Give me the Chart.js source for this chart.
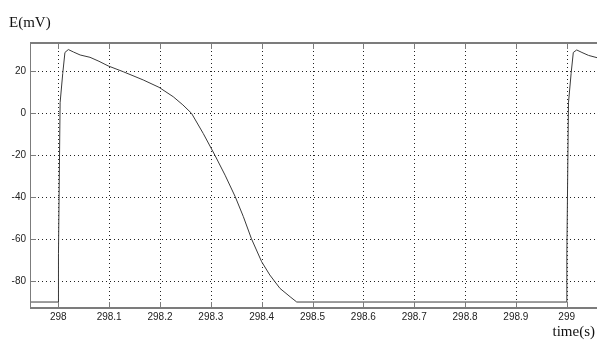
<!DOCTYPE html>
<html>
<head>
<meta charset="utf-8">
<script src="https://cdn.jsdelivr.net/npm/chart.js@4/dist/chart.umd.min.js"></script>
<style>
  html, body { margin: 0; padding: 0; background: #ffffff; }
  canvas { display: block; }
</style>
</head>
<body>
<canvas id="c" width="597" height="341"></canvas>
<script>
// ---- data ----
const timeS = [
  297.944, 298.0, 298.0003, 298.0035, 298.0087, 298.013, 298.0197, 298.03, 298.043,
  298.0623, 298.08, 298.098, 298.128, 298.167, 298.198, 298.226, 298.245, 298.262,
  298.285, 298.308, 298.328, 298.348, 298.364, 298.38, 298.4, 298.416, 298.436,
  298.456, 298.469, 299.0, 299.0003, 299.0035, 299.0087, 299.013, 299.0197, 299.03,
  299.043, 299.06
];
const voltageMV = [
  -90, -90, -67, 5, 19, 29, 30.4, 29.2, 27.8,
  26.7, 24.8, 22.6, 19.8, 15.9, 12.4, 7.9, 4.0, 0,
  -9.6, -20, -29.5, -39.8, -49.3, -59.9, -70.8, -77.1, -83.5,
  -87.5, -90, -90, -67, 5, 19, 29, 30.2, 29.0,
  27.6, 26.5
];
const xTickValues = [298, 298.1, 298.2, 298.3, 298.4, 298.5, 298.6, 298.7, 298.8, 298.9, 299];
const yTickValues = [-80, -60, -40, -20, 0, 20];
const xTitle = 'time(s)';
const yTitle = 'E(mV)';

const points = timeS.map((t, i) => ({ x: t, y: voltageMV[i] }));

const labelFont = { family: '"Liberation Sans Narrow", "Liberation Sans", Arial, sans-serif', size: 10 };
const frameColor = '#7c7c7c';

const matlabFrame = {
  id: 'matlabFrame',
  beforeDatasetsDraw(chart) {
    const { ctx, chartArea: a, scales: { x, y } } = chart;
    ctx.save();
    ctx.strokeStyle = '#222';
    ctx.lineWidth = 1;
    ctx.setLineDash([1, 3]);
    xTickValues.forEach(v => {
      const px = Math.round(x.getPixelForValue(v)) + 0.5;
      ctx.beginPath(); ctx.moveTo(px, a.top); ctx.lineTo(px, a.bottom); ctx.stroke();
    });
    yTickValues.forEach(v => {
      const py = Math.round(y.getPixelForValue(v)) + 0.5;
      ctx.beginPath(); ctx.moveTo(a.left, py); ctx.lineTo(a.right, py); ctx.stroke();
    });
    ctx.restore();
  },
  afterDatasetsDraw(chart) {
    const { ctx, chartArea: a, scales: { x, y } } = chart;
    ctx.save();
    ctx.setLineDash([]);
    ctx.strokeStyle = frameColor;
    ctx.lineWidth = 2;
    ctx.beginPath(); ctx.moveTo(a.left, a.top); ctx.lineTo(a.right, a.top); ctx.stroke();
    ctx.beginPath(); ctx.moveTo(a.left, a.bottom); ctx.lineTo(a.right, a.bottom); ctx.stroke();
    ctx.lineWidth = 1;
    ctx.beginPath(); ctx.moveTo(a.left + 0.5, a.top); ctx.lineTo(a.left + 0.5, a.bottom); ctx.stroke();
    const tl = 6;
    xTickValues.forEach(v => {
      const px = Math.round(x.getPixelForValue(v)) + 0.5;
      ctx.beginPath(); ctx.moveTo(px, a.bottom); ctx.lineTo(px, a.bottom - tl); ctx.stroke();
      ctx.beginPath(); ctx.moveTo(px, a.top); ctx.lineTo(px, a.top + tl); ctx.stroke();
    });
    yTickValues.forEach(v => {
      const py = Math.round(y.getPixelForValue(v)) + 0.5;
      ctx.beginPath(); ctx.moveTo(a.left, py); ctx.lineTo(a.left + tl, py); ctx.stroke();
    });
    ctx.restore();
  },
  afterDraw(chart) {
    const { ctx } = chart;
    ctx.save();
    ctx.fillStyle = '#111';
    ctx.font = '15px "Liberation Serif", "Times New Roman", serif';
    ctx.textBaseline = 'alphabetic';
    ctx.textAlign = 'left';
    ctx.fillText(yTitle, 9, 27);
    ctx.textAlign = 'right';
    ctx.fillText(xTitle, 595, 336);
    ctx.restore();
  }
};

new Chart(document.getElementById('c'), {
  type: 'line',
  data: {
    datasets: [{
      data: points,
      borderColor: '#3a3a3a',
      borderWidth: 1,
      pointRadius: 0,
      tension: 0,
      fill: false
    }]
  },
  options: {
    responsive: false,
    animation: false,
    events: [],
    layout: { padding: { top: 43, left: 0, right: 0, bottom: 0 } },
    plugins: { legend: { display: false }, tooltip: { enabled: false }, title: { display: false } },
    scales: {
      x: {
        type: 'linear',
        min: 297.9443,
        max: 299.0596,
        grid: { display: false, drawTicks: false },
        border: { display: false },
        afterBuildTicks: s => { s.ticks = xTickValues.map(v => ({ value: v })); },
        afterFit: s => { s.height = 33; },
        ticks: {
          color: '#222',
          font: labelFont,
          padding: 3,
          maxRotation: 0,
          autoSkip: false,
          callback: v => String(Number(Number(v).toFixed(1)))
        }
      },
      y: {
        type: 'linear',
        min: -92.85,
        max: 33.52,
        grid: { display: false, drawTicks: false },
        border: { display: false },
        afterBuildTicks: s => { s.ticks = yTickValues.map(v => ({ value: v })); },
        afterFit: s => { s.width = 30; },
        ticks: {
          color: '#222',
          font: labelFont,
          padding: 4,
          autoSkip: false,
          callback: v => String(v)
        }
      }
    }
  },
  plugins: [matlabFrame]
});
</script>
</body>
</html>
